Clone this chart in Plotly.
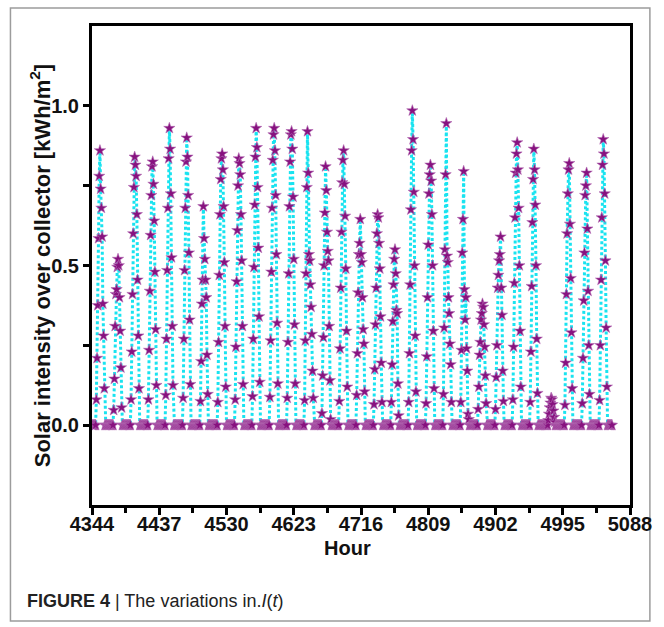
import plotly.graph_objects as go

# ---------------- data ----------------
first_hour = 4344
n_hours = 720                      # 30 days of hourly values
hours = list(range(first_hour, first_hour + n_hours))

# hour of day at which each day's non-zero values begin
sunrise = [6, 6, 6, 6, 6, 6, 6, 6, 6, 6,
           6, 6, 6, 6, 6, 6, 6, 6, 6, 6,
           6, 6, 6, 6, 6, 6, 7, 6, 6, 6]

# daylight solar intensity [kWh/m2], one list per day (nights are zero)
day01 = [0.08, 0.21, 0.375, 0.585, 0.78, 0.86, 0.74, 0.68, 0.59, 0.38, 0.28, 0.115]
day02 = [0.047, 0.145, 0.31, 0.41, 0.425, 0.495, 0.52, 0.50, 0.40, 0.295, 0.18, 0.055]
day03 = [0.08, 0.23, 0.41, 0.60, 0.745, 0.84, 0.815, 0.78, 0.66, 0.455, 0.28, 0.115]
day04 = [0.08, 0.235, 0.42, 0.595, 0.72, 0.81, 0.825, 0.755, 0.64, 0.48, 0.30, 0.125]
day05 = [0.094, 0.27, 0.485, 0.68, 0.835, 0.93, 0.865, 0.725, 0.525, 0.31, 0.125]
day06 = [0.085, 0.27, 0.485, 0.68, 0.825, 0.90, 0.84, 0.72, 0.54, 0.33, 0.128]
day07 = [0.075, 0.20, 0.38, 0.455, 0.685, 0.585, 0.52, 0.455, 0.40, 0.22, 0.097]
day08 = [0.072, 0.26, 0.47, 0.66, 0.77, 0.835, 0.85, 0.80, 0.685, 0.51, 0.31, 0.12]
day09 = [0.08, 0.245, 0.45, 0.61, 0.75, 0.835, 0.82, 0.785, 0.66, 0.515, 0.31, 0.128]
day10 = [0.09, 0.27, 0.495, 0.69, 0.84, 0.93, 0.87, 0.745, 0.555, 0.34, 0.135]
day11 = [0.088, 0.265, 0.48, 0.68, 0.83, 0.91, 0.93, 0.86, 0.72, 0.535, 0.32, 0.13]
day12 = [0.085, 0.26, 0.475, 0.685, 0.825, 0.91, 0.92, 0.865, 0.715, 0.52, 0.315, 0.13]
day13 = [0.078, 0.265, 0.475, 0.745, 0.92, 0.79, 0.535, 0.515, 0.44, 0.37, 0.285, 0.17, 0.085]
day14 = [0.037, 0.155, 0.275, 0.50, 0.665, 0.81, 0.735, 0.605, 0.545, 0.515, 0.31, 0.14, 0.018]
day15 = [0.075, 0.24, 0.43, 0.605, 0.76, 0.83, 0.86, 0.755, 0.655, 0.49, 0.295, 0.12]
day16 = [0.094, 0.225, 0.415, 0.535, 0.57, 0.645, 0.535, 0.51, 0.40, 0.30, 0.255, 0.105]
day17 = [0.065, 0.175, 0.315, 0.43, 0.60, 0.66, 0.65, 0.57, 0.49, 0.34, 0.195, 0.072]
day18 = [0.072, 0.19, 0.325, 0.44, 0.52, 0.55, 0.475, 0.36, 0.35, 0.13, 0.03]
day19 = [0.072, 0.225, 0.44, 0.675, 0.86, 0.985, 0.895, 0.73, 0.50, 0.28, 0.105]
day20 = [0.068, 0.215, 0.40, 0.565, 0.725, 0.785, 0.815, 0.765, 0.66, 0.50, 0.295, 0.115]
day21 = [0.097, 0.305, 0.55, 0.785, 0.945, 0.53, 0.51, 0.40, 0.35, 0.255, 0.19, 0.072]
day22 = [0.072, 0.235, 0.54, 0.645, 0.795, 0.425, 0.33, 0.40, 0.24, 0.17, 0.035, 0.018]
day23 = [0.05, 0.12, 0.22, 0.26, 0.33, 0.35, 0.38, 0.37, 0.315, 0.245, 0.155, 0.068]
day24 = [0.05, 0.15, 0.25, 0.43, 0.47, 0.515, 0.535, 0.59, 0.43, 0.345, 0.17, 0.075]
day25 = [0.08, 0.245, 0.445, 0.65, 0.79, 0.85, 0.885, 0.80, 0.68, 0.50, 0.295, 0.12]
day26 = [0.072, 0.23, 0.435, 0.635, 0.77, 0.865, 0.80, 0.69, 0.50, 0.27, 0.10]
day27 = [0.015, 0.035, 0.055, 0.07, 0.085, 0.08, 0.065, 0.045, 0.025, 0.01]
day28 = [0.063, 0.195, 0.41, 0.60, 0.725, 0.80, 0.82, 0.63, 0.46, 0.29, 0.115]
day29 = [0.068, 0.21, 0.39, 0.54, 0.72, 0.75, 0.79, 0.615, 0.42, 0.25, 0.097]
day30 = [0.078, 0.25, 0.455, 0.65, 0.815, 0.895, 0.85, 0.725, 0.515, 0.305, 0.12]

days = [day01, day02, day03, day04, day05, day06, day07, day08, day09, day10,
        day11, day12, day13, day14, day15, day16, day17, day18, day19, day20,
        day21, day22, day23, day24, day25, day26, day27, day28, day29, day30]

x_ticks = [4344, 4437, 4530, 4623, 4716, 4809, 4902, 4995, 5088]
y_ticks = [0.0, 0.5, 1.0]

# assemble the hourly series: zero at night, read values in daylight
solar = [0.0] * n_hours
for d, prof in enumerate(days):
    for k, v in enumerate(prof):
        solar[d * 24 + sunrise[d] + k] = v

# ---------------- figure ----------------
L, R, T, B = 92, 31, 26, 122
W, H = 664, 627
pw, ph = W - L - R, H - T - B


def px(xp):
    return (xp - L) / pw


def py(yp):
    return (H - B - yp) / ph


fig = go.Figure()
fig.add_trace(go.Scatter(
    x=hours, y=solar, mode="lines+markers",
    line=dict(color="#19E3F0", width=3, dash="3px,2.5px"),
    marker=dict(symbol="star", size=8.5, color="#87127F",
                line=dict(color="#B36BB3", width=0.6)),
    showlegend=False,
))

tickfont = dict(family="Liberation Sans, Arial, sans-serif", size=20,
                color="#111", weight="bold")

fig.update_layout(
    width=W, height=H,
    margin=dict(l=L, r=R, t=T, b=B, pad=0),
    paper_bgcolor="white", plot_bgcolor="white",
    xaxis=dict(range=[4344, 5088], tickvals=x_ticks,
               ticktext=[str(v) for v in x_ticks],
               showgrid=False, zeroline=False,
               showline=True, linecolor="black", linewidth=3, mirror=True,
               ticks="outside", ticklen=7, tickwidth=2.5, tickcolor="black",
               ticklabelstandoff=-8,
               minor=dict(dtick=46.5, tick0=4344, ticks="outside", ticklen=5,
                          tickwidth=2.5, tickcolor="black", showgrid=False),
               tickfont=tickfont),
    yaxis=dict(range=[-0.25, 1.25], tickvals=y_ticks,
               ticktext=["0.0", "0.5", "1.0"],
               showgrid=False, zeroline=False,
               showline=True, linecolor="black", linewidth=3, mirror=True,
               ticks="outside", ticklen=6, tickwidth=2.5, tickcolor="black",
               minor=dict(tickvals=[0.25, 0.75], ticks="outside", ticklen=6,
                          tickwidth=2.5, tickcolor="black", showgrid=False),
               tickfont=tickfont),
    shapes=[dict(type="rect", xref="paper", yref="paper",
                 x0=px(10), x1=px(653), y0=py(621), y1=py(8),
                 line=dict(color="#9c9c9c", width=1.5), layer="below")],
    annotations=[
        dict(text="<b>Solar intensity over collector [kWh/m<sup>2</sup>]</b>",
             xref="paper", yref="paper", x=px(40), y=py(266),
             xanchor="center", yanchor="middle", textangle=-90, showarrow=False,
             font=dict(family="Liberation Sans, Arial, sans-serif", size=22, color="#111")),
        dict(text="<b>Hour</b>", xref="paper", yref="paper",
             x=px(349), y=py(548), xanchor="center", yanchor="middle",
             showarrow=False,
             font=dict(family="Liberation Sans, Arial, sans-serif", size=20, color="#111")),
        dict(text="<b>FIGURE 4</b> | The variations in.<i>I</i>(<i>t</i>)",
             xref="paper", yref="paper", x=px(25), y=py(601),
             xanchor="left", yanchor="middle", showarrow=False,
             font=dict(family="Liberation Sans Narrow, Liberation Sans, Arial, sans-serif",
                       size=18, color="#222")),
    ],
)

fig.write_html("out.html")
